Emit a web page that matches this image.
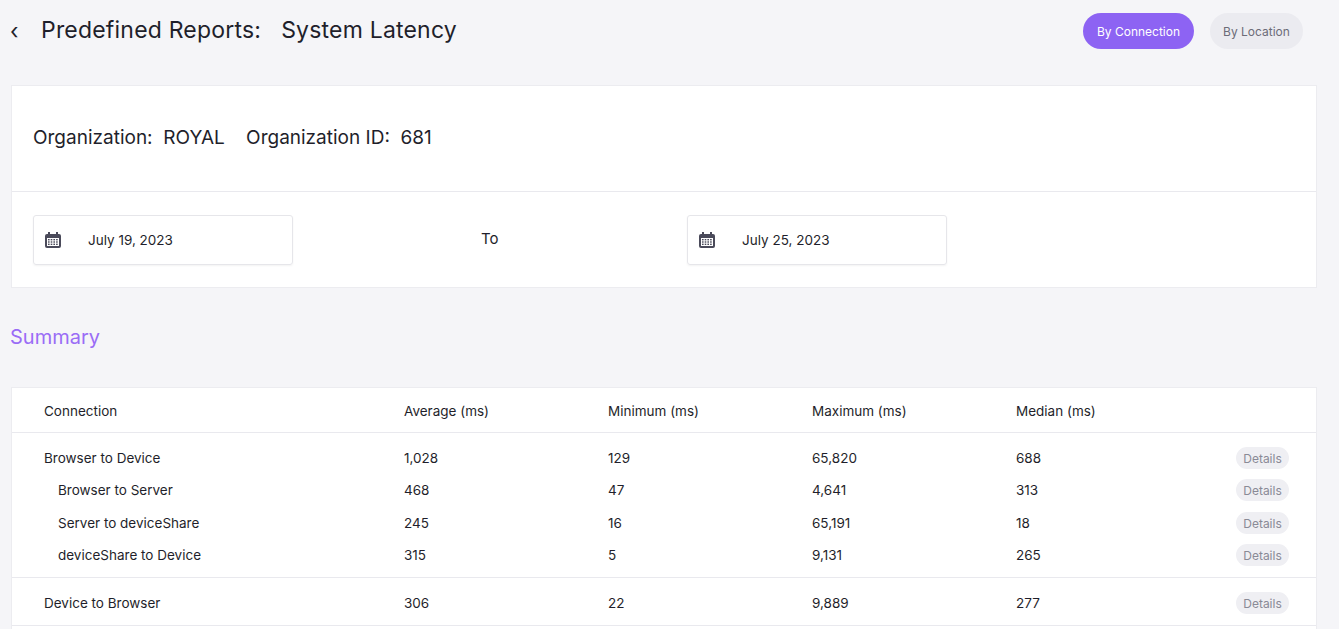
<!DOCTYPE html>
<html>
<head>
<meta charset="utf-8">
<script src="https://cdn.jsdelivr.net/npm/chart.js@4.4.0/dist/chart.umd.min.js"></script>
<style>
  body { margin: 0; background: #f5f5f8; font-family: "Inter", "Noto Sans", sans-serif; color: #1f1f2b; width: 1339px; height: 629px; overflow: hidden; position: relative; }
  .abs { position: absolute; }
  .title { left: 41px; top: 16px; font-size: 23px; letter-spacing: 0.2px; }
  .back { left: 10px; top: 18px; font-size: 22px; }
  .pill { top: 13px; height: 36px; border-radius: 18px; font-size: 12px; display: flex; align-items: center; justify-content: center; }
  .card { background: #fff; border: 1px solid #ececf0; }
  .org { left: 33px; top: 126px; font-size: 19px; }
  .date { width: 258px; height: 48px; top: 215px; border: 1px solid #e6e6ea; border-radius: 3px; box-shadow: 0 1px 2px rgba(0,0,0,0.05); font-size: 13.5px; }
  .date span { position: absolute; left: 54px; top: 16px; }
  .date svg { position: absolute; left: 10px; top: 15px; }
  .cell { font-size: 13.5px; }
  .details { left: 1236px; width: 53px; height: 22px; border-radius: 11px; background: #efeff3; color: #8a8a96; font-size: 12px; display: flex; align-items: center; justify-content: center; }
  .hr { left: 12px; width: 1304px; height: 1px; background: #e9e9ee; }
</style>
</head>
<body>
<div class="abs back">&#x2039;</div>
<div class="abs title">Predefined Reports:&nbsp;&nbsp;&nbsp;System Latency</div>
<div class="abs pill" style="left:1083px;width:111px;background:#8d63f3;color:#fff;">By Connection</div>
<div class="abs pill" style="left:1210px;width:93px;background:#ebebf0;color:#6c6c78;">By Location</div>

<div class="abs card" style="left:11px;top:85px;width:1304px;height:201px;"></div>
<div class="abs hr" style="top:191px;"></div>
<div class="abs org">Organization:&nbsp; ROYAL&nbsp;&nbsp;&nbsp; Organization ID:&nbsp; 681</div>
<div class="abs date" style="left:33px;" id="d1"></div>
<div class="abs date" style="left:687px;" id="d2"></div>
<div class="abs" style="left:481px;top:229px;font-size:15px;">To</div>

<div class="abs" style="left:10px;top:325px;font-size:20px;color:#9a6cf6;">Summary</div>
<div class="abs card" style="left:11px;top:387px;width:1304px;height:260px;"></div>
<div id="table"></div>

<script>
const startDate = 'July 19, 2023';
const endDate = 'July 25, 2023';
const columns = ['Connection', 'Average (ms)', 'Minimum (ms)', 'Maximum (ms)', 'Median (ms)'];
const connections = ['Browser to Device', 'Browser to Server', 'Server to deviceShare', 'deviceShare to Device', 'Device to Browser'];
const indented = [false, true, true, true, false];
const averages = ['1,028', '468', '245', '315', '306'];
const minimums = ['129', '47', '16', '5', '22'];
const maximums = ['65,820', '4,641', '65,191', '9,131', '9,889'];
const medians = ['688', '313', '18', '265', '277'];

const calIcon = '<svg width="18" height="18" viewBox="0 0 18 18"><rect x="1" y="3" width="16" height="14" rx="2" fill="#4a4a5a"/><rect x="3" y="7" width="12" height="8" fill="#fff"/><rect x="4" y="1" width="2" height="4" fill="#4a4a5a"/><rect x="12" y="1" width="2" height="4" fill="#4a4a5a"/>' +
  [0,1,2].map(r => [0,1,2,3].map(c => `<rect x="${4 + c * 2.7}" y="${8 + r * 2.3}" width="1.6" height="1.4" fill="#4a4a5a"/>`).join('')).join('') + '</svg>';
document.getElementById('d1').innerHTML = calIcon + `<span>${startDate}</span>`;
document.getElementById('d2').innerHTML = calIcon + `<span>${endDate}</span>`;

const colX = [44, 404, 608, 812, 1016];
const rowY = [458, 490, 523, 555, 603];
let html = '';
columns.forEach((c, i) => {
  html += `<div class="abs cell" style="left:${colX[i]}px;top:403px;">${c}</div>`;
});
html += '<div class="abs hr" style="top:432px;"></div>';
html += '<div class="abs hr" style="top:577px;"></div>';
html += '<div class="abs hr" style="top:625px;"></div>';
connections.forEach((name, i) => {
  const vals = [name, averages[i], minimums[i], maximums[i], medians[i]];
  vals.forEach((v, j) => {
    const x = colX[j] + (j === 0 && indented[i] ? 14 : 0);
    html += `<div class="abs cell" style="left:${x}px;top:${rowY[i] - 8}px;">${v}</div>`;
  });
  html += `<div class="abs details" style="top:${rowY[i] - 11}px;">Details</div>`;
});
document.getElementById('table').innerHTML = html;
</script>
</body>
</html>
